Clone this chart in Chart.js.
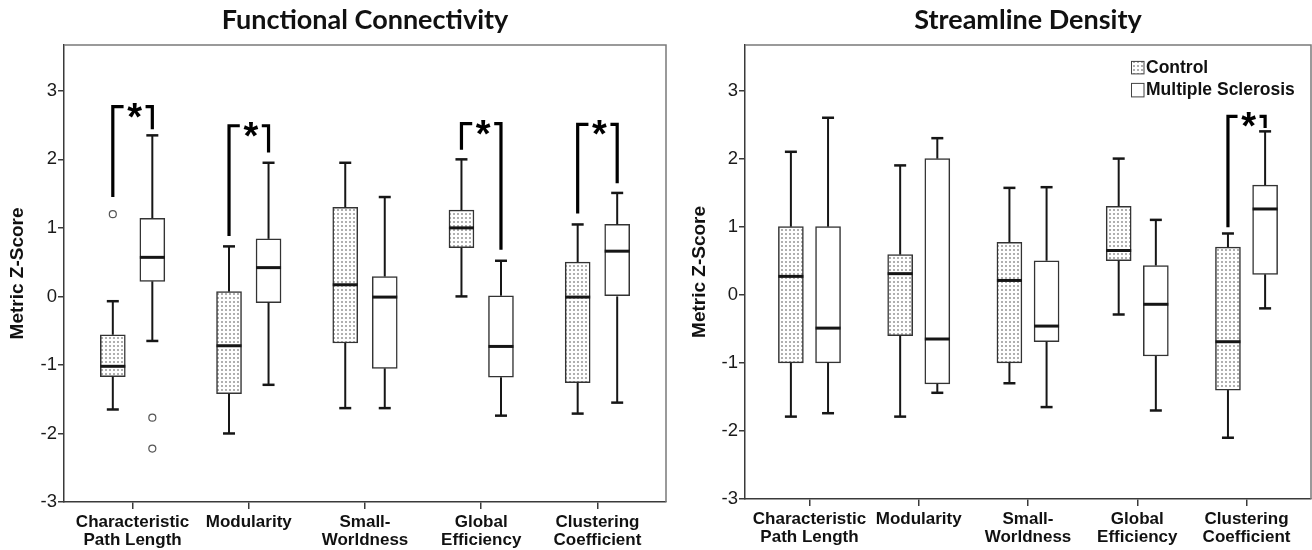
<!DOCTYPE html>
<html>
<head>
<meta charset="utf-8">
<script src="https://cdn.jsdelivr.net/npm/chart.js@4.4.0/dist/chart.umd.min.js"></script>
<style>
  html, body { margin: 0; padding: 0; background: #fff; }
  #wrap { position: relative; width: 1312px; height: 550px; overflow: hidden; }
  canvas { position: absolute; top: 0; }
</style>
</head>
<body>
<div id="wrap">
  <canvas id="fc" width="680" height="550" style="left:0px"></canvas>
  <canvas id="sd" width="632" height="550" style="left:680px"></canvas>
</div>
<script>
const categories = [["Characteristic", "Path Length"], ["Modularity"], ["Small-", "Worldness"], ["Global", "Efficiency"], ["Clustering", "Coefficient"]];
const yTicks = [-3, -2, -1, 0, 1, 2, 3];
const seriesNames = ["Control", "Multiple Sclerosis"];

// each box: [lower whisker, Q1, median, Q3, upper whisker]
const fcControl = [[-1.65, -1.17, -1.02, -0.56, -0.07], [-2.0, -1.42, -0.72, 0.07, 0.73], [-1.63, -0.68, 0.17, 1.30, 1.95], [0.0, 0.71, 1.0, 1.26, 2.0], [-1.71, -1.26, -0.01, 0.50, 1.05]];
const fcMS = [[-0.65, 0.22, 0.57, 1.14, 2.35], [-1.29, -0.09, 0.42, 0.84, 1.95], [-1.63, -1.05, -0.01, 0.29, 1.45], [-1.74, -1.18, -0.73, 0.01, 0.52], [-1.55, 0.0, 0.66, 1.05, 1.51]];
const fcControlOutliers = [[1.2], [], [], [], []];
const fcMSOutliers = [[-1.77, -2.22], [], [], [], []];
// significance bracket: [category, left end, top, right end]
const fcSig = [[1, 1.45, 2.77, 2.44], [2, 0.88, 2.49, 2.10], [4, 2.14, 2.52, 0.68], [5, 1.21, 2.51, 1.65]];

const sdControl = [[-1.79, -1.0, 0.27, 1.0, 2.10], [-1.79, -0.60, 0.31, 0.59, 1.90], [-1.30, -1.0, 0.21, 0.77, 1.57], [-0.29, 0.50, 0.65, 1.30, 2.0], [-2.10, -1.40, -0.69, 0.70, 0.90]];
const sdMS = [[-1.74, -1.0, -0.49, 1.0, 2.60], [-1.44, -1.31, -0.65, 2.0, 2.30], [-1.65, -0.69, -0.46, 0.50, 1.58], [-1.70, -0.90, -0.14, 0.43, 1.10], [-0.20, 0.30, 1.26, 1.61, 2.40]];
const sdControlOutliers = [[], [], [], [], []];
const sdMSOutliers = [[], [], [], [], []];
const sdSig = [[5, 0.99, 2.62, 2.45]];

const OFF = 0.17; // box offset from category centre
const AX = "#3a3a3a";

function dotPattern(ctx) {
  const c = document.createElement("canvas");
  c.width = 4; c.height = 4;
  const g = c.getContext("2d");
  g.fillStyle = "#fff"; g.fillRect(0, 0, 4, 4);
  g.fillStyle = "#b0b0b0"; g.fillRect(1, 1, 2, 2);
  return ctx.createPattern(c, "repeat");
}

const boxExtras = {
  id: "boxExtras",
  afterDatasetsDraw(chart, args, opts) {
    const ctx = chart.ctx;
    const x = chart.scales.x, y = chart.scales.y;
    const py = v => y.getPixelForValue(v);
    function seg(x1, y1, x2, y2) {
      ctx.beginPath(); ctx.moveTo(x1, y1); ctx.lineTo(x2, y2); ctx.stroke();
    }
    ctx.save();
    ctx.strokeStyle = "#161616";
    ctx.lineCap = "butt";
    opts.groups.forEach(gp => {
      gp.data.forEach((b, i) => {
        const cx = x.getPixelForValue(i + 1 + gp.off);
        ctx.lineWidth = 2;
        seg(cx, py(b[3]), cx, py(b[4]));
        seg(cx, py(b[1]), cx, py(b[0]));
        ctx.lineWidth = 2.5;
        seg(cx - 6, py(b[4]), cx + 6, py(b[4]));
        seg(cx - 6, py(b[0]), cx + 6, py(b[0]));
        ctx.lineWidth = 3;
        seg(cx - 12.5, py(b[2]), cx + 12.5, py(b[2]));
      });
    });
    // significance brackets
    ctx.strokeStyle = "#000";
    ctx.lineWidth = 3.2;
    ctx.fillStyle = "#000";
    ctx.font = "bold 38px 'Liberation Sans', Arial, sans-serif";
    ctx.textAlign = "center";
    ctx.textBaseline = "alphabetic";
    opts.sig.forEach(s => {
      const xl = x.getPixelForValue(s[0] - OFF);
      const xr = x.getPixelForValue(s[0] + OFF);
      const yt = py(s[2]);
      const xm = (xl + xr) / 2;
      ctx.beginPath();
      ctx.moveTo(xl, py(s[1])); ctx.lineTo(xl, yt); ctx.lineTo(xm - 9, yt);
      ctx.stroke();
      ctx.beginPath();
      ctx.moveTo(xm + 13, yt); ctx.lineTo(xr, yt); ctx.lineTo(xr, py(s[3]));
      ctx.stroke();
      ctx.fillText("*", xm + 2, yt + 23);
    });
    ctx.restore();
  },
  afterDraw(chart, args, opts) {
    const ctx = chart.ctx;
    const a = chart.chartArea;
    ctx.save();
    ctx.strokeStyle = "#7a7a7a";
    ctx.lineWidth = 1.5;
    ctx.beginPath();
    ctx.moveTo(a.left, a.top); ctx.lineTo(a.right, a.top); ctx.lineTo(a.right, a.bottom);
    ctx.stroke();
    if (opts.legend) {
      const lx = a.right - 180, ly = a.top + 16;
      ctx.lineWidth = 1;
      ctx.strokeStyle = "#444";
      ctx.fillStyle = dotPattern(ctx);
      ctx.fillRect(lx, ly, 13, 13);
      ctx.strokeRect(lx + 0.5, ly + 0.5, 12.5, 12.5);
      ctx.fillStyle = "#fff";
      ctx.fillRect(lx, ly + 22, 13, 14);
      ctx.strokeRect(lx + 0.5, ly + 22.5, 12.5, 13.5);
      ctx.fillStyle = "#111";
      ctx.font = "bold 17.5px 'Liberation Sans', Arial, sans-serif";
      ctx.textAlign = "left";
      ctx.textBaseline = "alphabetic";
      ctx.fillText(seriesNames[0], lx + 15, ly + 12.5);
      ctx.fillText(seriesNames[1], lx + 15, ly + 34.5);
    }
    ctx.restore();
  }
};

function makeChart(id, title, ctrl, ms, ctrlOut, msOut, sig, yWidth, xHeight, padRight, yTitlePad, legend) {
  const canvas = document.getElementById(id);
  const ctx = canvas.getContext("2d");
  const pattern = dotPattern(ctx);
  const outliers = [];
  ctrlOut.forEach((arr, i) => arr.forEach(v => outliers.push({ x: i + 1 - OFF, y: v })));
  msOut.forEach((arr, i) => arr.forEach(v => outliers.push({ x: i + 1 + OFF, y: v })));

  return new Chart(ctx, {
    type: "bar",
    data: {
      datasets: [
        {
          label: seriesNames[0],
          data: ctrl.map((b, i) => ({ x: i + 1 - OFF, y: [b[1], b[3]] })),
          backgroundColor: pattern,
          borderColor: "#333",
          borderWidth: 1.5,
          borderSkipped: false,
          barThickness: 25,
          grouped: false
        },
        {
          label: seriesNames[1],
          data: ms.map((b, i) => ({ x: i + 1 + OFF, y: [b[1], b[3]] })),
          backgroundColor: "#fff",
          borderColor: "#333",
          borderWidth: 1.5,
          borderSkipped: false,
          barThickness: 25,
          grouped: false
        },
        {
          type: "scatter",
          label: "outliers",
          data: outliers,
          pointRadius: 3.5,
          pointBackgroundColor: "#fff",
          pointBorderColor: "#555",
          pointBorderWidth: 1.2
        }
      ]
    },
    options: {
      responsive: false,
      animation: false,
      events: [],
      layout: { padding: { left: 0, right: padRight, top: 0, bottom: 0 } },
      plugins: {
        legend: { display: false },
        tooltip: { enabled: false },
        title: {
          display: true,
          fullSize: false,
          text: title,
          color: "#111",
          font: { family: "Lato", size: 27, weight: "bold" },
          padding: { top: 4, bottom: 8.5 }
        },
        boxExtras: {
          groups: [{ data: ctrl, off: -OFF }, { data: ms, off: OFF }],
          sig: sig,
          legend: legend
        }
      },
      scales: {
        x: {
          type: "linear",
          min: 0.41,
          max: 5.59,
          offset: false,
          afterBuildTicks: s => { s.ticks = categories.map((c, i) => ({ value: i + 1 })); },
          afterFit: s => { s.height = xHeight; },
          ticks: {
            autoSkip: false,
            maxRotation: 0,
            minRotation: 0,
            padding: 4,
            color: "#111",
            font: { family: "'Liberation Sans', Arial, sans-serif", size: 17, weight: "bold", lineHeight: 1.06 },
            callback: v => categories[Math.round(v) - 1]
          },
          grid: { offset: false, drawOnChartArea: false, drawTicks: true, tickLength: 7, color: AX, lineWidth: 1.5 },
          border: { display: true, color: AX, width: 1.5 }
        },
        y: {
          type: "linear",
          min: -3,
          max: 3.67,
          afterBuildTicks: s => { s.ticks = yTicks.map(v => ({ value: v })); },
          afterFit: s => { s.width = yWidth; },
          ticks: {
            padding: 1,
            color: "#1a1a1a",
            font: { family: "'Liberation Sans', Arial, sans-serif", size: 18.5 },
            callback: v => String(v)
          },
          grid: { drawOnChartArea: false, drawTicks: true, tickLength: 6, color: AX, lineWidth: 1.5 },
          border: { display: true, color: AX, width: 1.5 },
          title: {
            display: true,
            text: "Metric Z-Score",
            color: "#111",
            font: { family: "'Liberation Sans', Arial, sans-serif", size: 19, weight: "bold" },
            padding: { top: yTitlePad, bottom: 0 }
          }
        }
      }
    },
    plugins: [boxExtras]
  });
}

makeChart("fc", "Functional Connectivity", fcControl, fcMS, fcControlOutliers, fcMSOutliers, fcSig, 64, 48, 14, 6.5, false);
makeChart("sd", "Streamline Density", sdControl, sdMS, sdControlOutliers, sdMSOutliers, sdSig, 65, 51, 1, 8.2, true);
</script>
</body>
</html>
